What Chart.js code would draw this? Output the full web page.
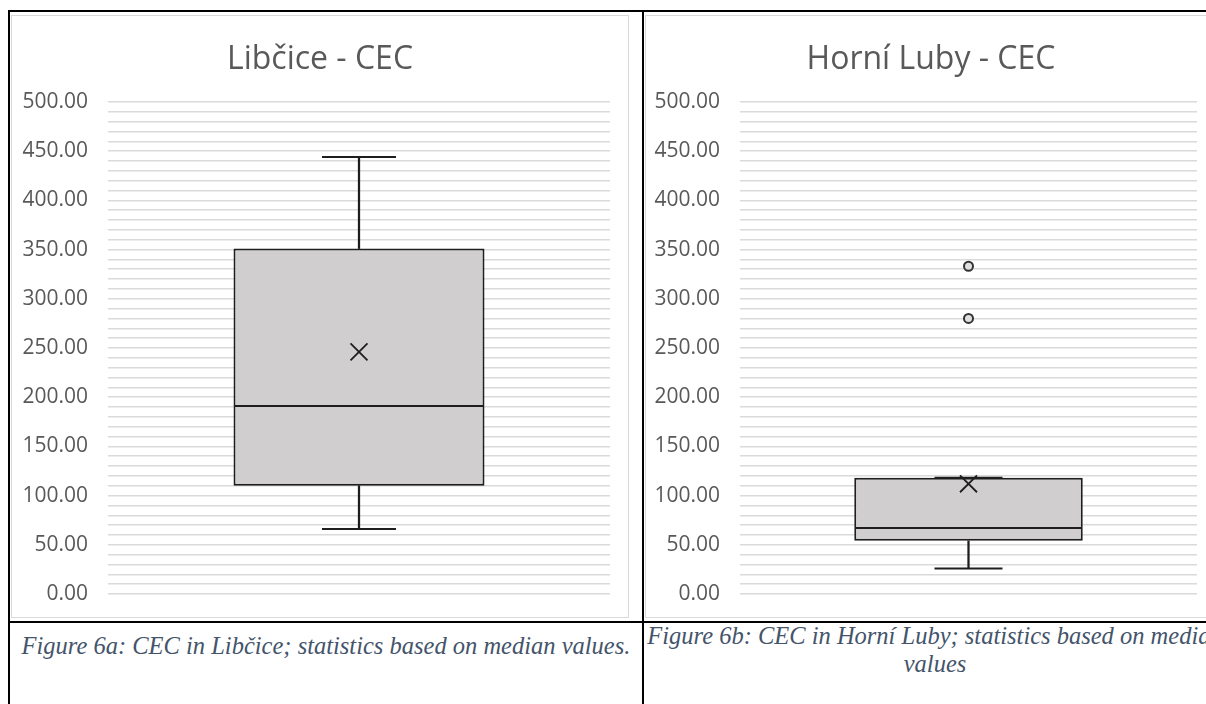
<!DOCTYPE html>
<html>
<head>
<meta charset="utf-8">
<script src="https://cdn.jsdelivr.net/npm/chart.js@4.4.1/dist/chart.umd.min.js"></script>
<style>
  body { margin: 0; width: 1206px; height: 704px; overflow: hidden; background: #fff; position: relative; }
  .rule { position: absolute; background: #000; }
  .frame { position: absolute; box-sizing: border-box; border: 1px solid #d9d9d9; background: #fff; }
  .frame div { position: relative; width: 100%; height: 100%; }
  .caption { position: absolute; font-family: "Liberation Serif", "Times New Roman", serif; font-style: italic;
             font-size: 24.5px; line-height: 28px; color: #44546a; text-align: center; white-space: nowrap; }
</style>
</head>
<body>

<div class="rule" style="left:8px;top:10px;width:1198px;height:2px"></div>
<div class="rule" style="left:8px;top:10px;width:2px;height:694px"></div>
<div class="rule" style="left:642px;top:10px;width:2px;height:694px"></div>
<div class="rule" style="left:8px;top:621px;width:1198px;height:2px"></div>

<div class="frame" style="left:11px;top:15px;width:618px;height:603px"><div><canvas id="chartA"></canvas></div></div>
<div class="frame" style="left:645px;top:15px;width:572px;height:603px"><div><canvas id="chartB"></canvas></div></div>

<div class="caption" style="left:10px;width:632px;top:632px">Figure 6a: CEC in Libčice; statistics based on median values.</div>
<div class="caption" style="left:647px;width:576px;top:622px">Figure 6b: CEC in Horní Luby; statistics based on median<br>values</div>

<script>
// box plot statistics (one entry per chart)
const chartTitles = ['Libčice - CEC', 'Horní Luby - CEC'];
const category = ['CEC'];
const whiskerLow = [66, 26];
const quartile1 = [110, 54];
const medians = [190, 66];
const quartile3 = [351, 118];
const whiskerHigh = [444, 118];
const means = [246, 112];
const outliers = [[], [333, 280]];

const yMin = 0;
const yMax = 500;
const yStep = 10;
const labelEvery = 50;

const boxFill = '#d0cece';
const inkColor = '#1e1e1e';
const textGrey = '#595959';
const uiFont = '"Open Sans", "DejaVu Sans", sans-serif';

function buildChart(canvasId, i, axisWidth, capRadius, rightGap) {
  const label = category[0];

  const datasets = [
    {
      type: 'line',
      label: 'Mean',
      data: [means[i]],
      showLine: false,
      pointStyle: 'crossRot',
      pointRadius: 12,
      borderColor: inkColor,
      borderWidth: 1.8,
      backgroundColor: 'rgba(0,0,0,0)'
    },
    {
      type: 'line',
      label: 'Outliers',
      data: outliers[i].map(v => ({ x: label, y: v })),
      showLine: false,
      pointStyle: 'circle',
      pointRadius: 4.5,
      borderColor: '#333333',
      borderWidth: 2,
      backgroundColor: '#e0e0e0'
    },
    {
      type: 'line',
      label: 'Caps',
      data: [{ x: label, y: whiskerHigh[i] }, { x: label, y: whiskerLow[i] }],
      showLine: false,
      pointStyle: 'line',
      pointRadius: capRadius,
      borderColor: inkColor,
      borderWidth: 2
    },
    {
      // lower half of the box, its top edge is left to the median bar
      type: 'bar',
      label: 'Q1-Median',
      data: [[quartile1[i], medians[i]]],
      grouped: false,
      barPercentage: 0.5,
      categoryPercentage: 1,
      backgroundColor: boxFill,
      borderColor: inkColor,
      borderWidth: { top: 0, bottom: 2, left: 2, right: 2 },
      borderSkipped: false
    },
    {
      type: 'bar',
      label: 'Median-Q3',
      data: [[medians[i], quartile3[i]]],
      grouped: false,
      barPercentage: 0.5,
      categoryPercentage: 1,
      backgroundColor: boxFill,
      borderColor: inkColor,
      borderWidth: 2,
      borderSkipped: false
    },
    {
      type: 'bar',
      label: 'Whisker up',
      data: [[quartile3[i], whiskerHigh[i]]],
      grouped: false,
      barThickness: 1.6,
      backgroundColor: inkColor,
      borderWidth: 0
    },
    {
      type: 'bar',
      label: 'Whisker down',
      data: [[whiskerLow[i], quartile1[i]]],
      grouped: false,
      barThickness: 1.6,
      backgroundColor: inkColor,
      borderWidth: 0
    }
  ];

  return new Chart(document.getElementById(canvasId), {
    type: 'bar',
    data: { labels: category, datasets: datasets },
    options: {
      responsive: true,
      maintainAspectRatio: false,
      animation: false,
      layout: { autoPadding: false, padding: { left: 0, right: 0, top: 0, bottom: 23 } },
      plugins: {
        legend: { display: false },
        tooltip: { enabled: false },
        title: {
          display: true,
          text: chartTitles[i],
          color: textGrey,
          font: { family: uiFont, size: 32, weight: 'normal' },
          padding: { top: 25, bottom: 22.5 }
        }
      },
      scales: {
        x: { display: false, offset: true },
        y: {
          min: yMin,
          max: yMax,
          border: { display: false },
          grid: { color: '#dadada', lineWidth: 1.5, drawTicks: false },
          afterFit: function (scale) {
            scale.width = axisWidth;
            scale.paddingTop = 0;
            scale.paddingBottom = 0;
          },
          ticks: {
            stepSize: yStep,
            autoSkip: false,
            maxTicksLimit: 100,
            padding: 20,
            color: textGrey,
            font: { family: uiFont, size: 21 },
            callback: function (value) {
              return value % labelEvery === 0 ? value.toFixed(2) : '';
            }
          }
        },
        // empty axis on the right, only keeps a margin between plot and frame
        yGap: {
          position: 'right',
          display: true,
          min: yMin,
          max: yMax,
          border: { display: false },
          grid: { display: false, drawTicks: false },
          ticks: { display: false },
          afterFit: function (scale) {
            scale.width = rightGap;
            scale.paddingTop = 0;
            scale.paddingBottom = 0;
          }
        }
      }
    }
  });
}

buildChart('chartA', 0, 96, 37, 18);
buildChart('chartB', 1, 94, 34, 19);
</script>
</body>
</html>
